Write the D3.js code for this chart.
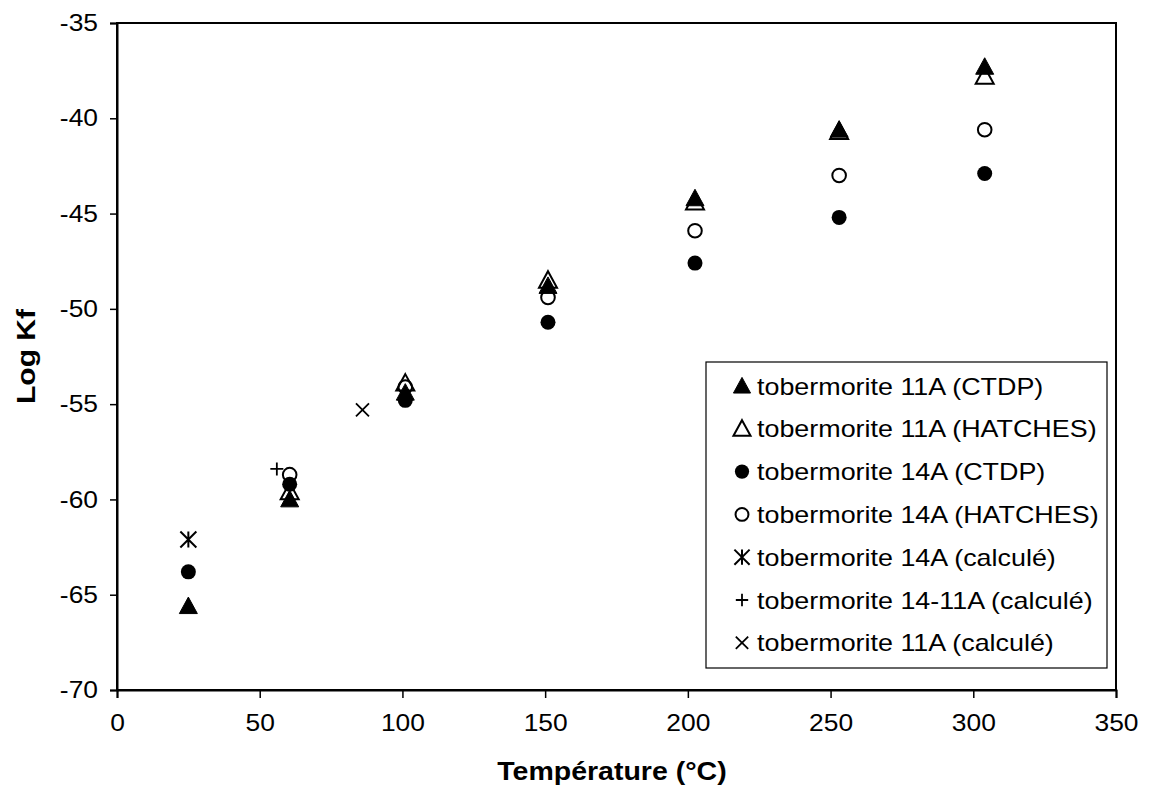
<!DOCTYPE html>
<html>
<head>
<meta charset="utf-8">
<script src="https://cdn.jsdelivr.net/npm/d3@7"></script>
<style>
  html, body { margin: 0; padding: 0; background: #fff; }
  svg text { font-family: "Liberation Sans", Arial, sans-serif; fill: #000; }
</style>
</head>
<body>
<svg id="chart" width="1157" height="787"></svg>
<script>
// ---- data ----
const xTicks = [0, 50, 100, 150, 200, 250, 300, 350];
const yTicks = [-35, -40, -45, -50, -55, -60, -65, -70];

const tob11CTDP    = [[25, -65.6], [60.5, -60.0], [101, -54.4], [151, -48.8], [202.5, -44.2], [253, -40.6], [304, -37.3]];
const tob11HATCHES = [[60.5, -59.6], [101, -53.9], [151, -48.5], [202.5, -44.4], [253, -40.7], [304, -37.8]];
const tob14CTDP    = [[25, -63.8], [60.5, -59.2], [101, -54.8], [151, -50.7], [202.5, -47.6], [253, -45.2], [304, -42.9]];
const tob14HATCHES = [[60.5, -58.7], [101, -54.1], [151, -49.4], [202.5, -45.9], [253, -43.0], [304, -40.6]];
const tob14calc    = [[25, -62.1]];
const tob1411calc  = [[56, -58.4]];
const tob11calc    = [[86, -55.3]];

const seriesNames = [
  "tobermorite 11A (CTDP)",
  "tobermorite 11A (HATCHES)",
  "tobermorite 14A (CTDP)",
  "tobermorite 14A (HATCHES)",
  "tobermorite 14A (calculé)",
  "tobermorite 14-11A (calculé)",
  "tobermorite 11A (calculé)"
];
const seriesData = [tob11CTDP, tob11HATCHES, tob14CTDP, tob14HATCHES, tob14calc, tob1411calc, tob11calc];
const seriesMarker = ["triFilled", "triOpen", "circFilled", "circOpen", "asterisk", "plus", "cross"];

// ---- layout ----
const svg = d3.select("#chart");
const L = 117, R = 1116, T = 23, B = 690;
const x = d3.scaleLinear().domain([0, 350]).range([L, R]);
const y = d3.scaleLinear().domain([-70, -35]).range([B, T]);

// stretch text horizontally (reference glyphs are slightly wider)
function stretch(sel, f) {
  sel.each(function () {
    const w = this.getComputedTextLength();
    d3.select(this).attr("textLength", w * f).attr("lengthAdjust", "spacingAndGlyphs");
  });
}

// frame
svg.append("rect").attr("x", L).attr("y", T).attr("width", R - L).attr("height", B - T)
  .attr("fill", "none").attr("stroke", "#000").attr("stroke-width", 2);

// axes
const xAxis = svg.append("g").attr("transform", `translate(0,${B})`)
  .call(d3.axisBottom(x).tickValues(xTicks).tickSize(8).tickPadding(16).tickFormat(d3.format("d")));
const yAxis = svg.append("g").attr("transform", `translate(${L},0)`)
  .call(d3.axisLeft(y).tickValues(yTicks).tickSize(7).tickPadding(12).tickFormat(d => d3.format("d")(d).replace("−", "-")));
[xAxis, yAxis].forEach(a => {
  a.select(".domain").attr("stroke", "#000").attr("stroke-width", 2);
  a.selectAll(".tick line").attr("stroke", "#000").attr("stroke-width", 1.5);
  a.selectAll(".tick text").attr("font-size", 24).attr("font-family", '"Liberation Sans", Arial, sans-serif').attr("fill", "#000");
  stretch(a.selectAll(".tick text"), 1.1);
});

// axis titles
const xt = svg.append("text").attr("x", 612).attr("y", 780).attr("text-anchor", "middle")
  .attr("font-size", 25).attr("font-weight", "bold").text("Température (°C)");
stretch(xt, 1.14);
const yt = svg.append("text").attr("transform", `translate(35,${(T + B) / 2}) rotate(-90)`).attr("text-anchor", "middle")
  .attr("font-size", 25).attr("font-weight", "bold").text("Log Kf");
stretch(yt, 1.2);

// marker drawing
function drawMarker(g, type, cx, cy, s) {
  const k = s || 1;
  if (type === "triFilled" || type === "triOpen") {
    const w = 18 * k, h = 16.5 * k;
    const p = `M${cx},${cy - h * 0.55} L${cx + w / 2},${cy + h * 0.45} L${cx - w / 2},${cy + h * 0.45} Z`;
    g.append("path").attr("d", p)
      .attr("fill", type === "triFilled" ? "#000" : "none")
      .attr("stroke", "#000").attr("stroke-width", type === "triFilled" ? 1 : 2).attr("stroke-linejoin", "miter");
  } else if (type === "circFilled") {
    g.append("circle").attr("cx", cx).attr("cy", cy).attr("r", 7.5 * k).attr("fill", "#000");
  } else if (type === "circOpen") {
    g.append("circle").attr("cx", cx).attr("cy", cy).attr("r", 6.8 * k)
      .attr("fill", "none").attr("stroke", "#000").attr("stroke-width", 2);
  } else if (type === "asterisk") {
    const r = 8 * k;
    const p = `M${cx - r},${cy - r} L${cx + r},${cy + r} M${cx + r},${cy - r} L${cx - r},${cy + r} M${cx},${cy - r} L${cx},${cy + r}`;
    g.append("path").attr("d", p).attr("stroke", "#000").attr("stroke-width", 2).attr("fill", "none");
  } else if (type === "plus") {
    const r = 6.5 * k;
    const p = `M${cx - r},${cy} L${cx + r},${cy} M${cx},${cy - r} L${cx},${cy + r}`;
    g.append("path").attr("d", p).attr("stroke", "#000").attr("stroke-width", 1.8).attr("fill", "none");
  } else if (type === "cross") {
    const r = 6.5 * k;
    const p = `M${cx - r},${cy - r} L${cx + r},${cy + r} M${cx + r},${cy - r} L${cx - r},${cy + r}`;
    g.append("path").attr("d", p).attr("stroke", "#000").attr("stroke-width", 1.8).attr("fill", "none");
  }
}

// points
const pts = svg.append("g");
seriesData.forEach((data, i) => {
  const g = pts.append("g").attr("class", "series-" + i);
  data.forEach(d => drawMarker(g, seriesMarker[i], x(d[0]), y(d[1])));
});

// legend
const lg = svg.append("g");
const lx = 706, ly = 362, lw = 401, lh = 306;
lg.append("rect").attr("x", lx).attr("y", ly).attr("width", lw).attr("height", lh)
  .attr("fill", "#fff").attr("stroke", "#000").attr("stroke-width", 1.2);
seriesNames.forEach((name, i) => {
  const cy = 386 + i * 42.8;
  drawMarker(lg, seriesMarker[i], 742, cy, 0.95);
  const t = lg.append("text").attr("x", 757).attr("y", cy).attr("dy", "0.36em")
    .attr("font-size", 24).text(name);
  stretch(t, 1.12);
});
</script>
</body>
</html>
